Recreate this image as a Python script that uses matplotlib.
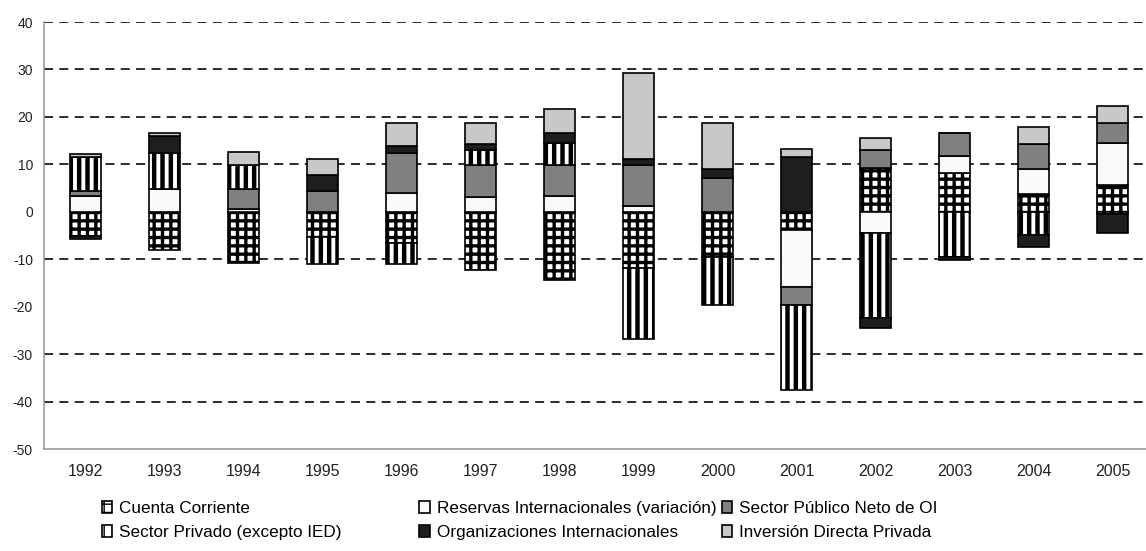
import matplotlib
matplotlib.use('Agg')
import matplotlib.pyplot as plt
import numpy as np

plt.rcParams['font.family'] = ['Liberation Sans', 'DejaVu Sans']
plt.rcParams['axes.unicode_minus'] = False

# datos (% del PIB)
years = ['1992', '1993', '1994', '1995', '1996', '1997', '1998',
         '1999', '2000', '2001', '2002', '2003', '2004', '2005']
cuenta_corriente = [-5.1, -8.1, -10.8, -5.2, -6.6, -12.2, -14.3, -11.9, -9.5, -3.8, 9.3, 8.2, 3.8, 5.7]
reservas = [3.4, 4.8, 0.6, 0.0, 4.0, 3.2, 3.4, 1.3, 0.0, -12.0, -4.4, 3.6, 5.3, 8.8]
sector_publico = [1.0, 0.0, 4.2, 4.4, 8.4, 6.7, 6.5, 8.6, 7.2, -3.8, 3.8, 4.8, 5.2, 4.2]
sector_privado = [7.2, 7.6, 5.1, -5.7, -4.3, 3.2, 4.6, -15.0, -10.1, -17.9, -17.9, -9.5, -4.8, -0.5]
organizaciones = [-0.6, 3.6, 0.0, 3.4, 1.5, 1.2, 2.1, 1.3, 1.9, 11.6, -2.1, -0.6, -2.6, -4.0]
inversion_directa = [0.5, 0.6, 2.7, 3.4, 4.8, 4.4, 5.1, 18.1, 9.6, 1.7, 2.5, 0.0, 3.6, 3.6]

series = [
    ('Cuenta Corriente', cuenta_corriente, 'white', '++', 2.4),
    ('Reservas Internacionales (variación)', reservas, '#fafafa', '', 1.0),
    ('Sector Público Neto de OI', sector_publico, '#808080', '', 1.0),
    ('Sector Privado (excepto IED)', sector_privado, 'white', '||', 3.2),
    ('Organizaciones Internacionales', organizaciones, '#1e1e1e', '', 1.0),
    ('Inversión Directa Privada', inversion_directa, '#c8c8c8', '', 1.0),
]

fig = plt.figure(figsize=(11.46, 5.51), dpi=100)
ax = fig.add_axes([0.0384, 0.185, 0.9616, 0.775])

x = np.arange(len(years))
pos = np.zeros(len(years))
neg = np.zeros(len(years))
handles = {}
for name, vals, color, hatch, hlw in series:
    v = np.array(vals)
    bottom = np.where(v >= 0, pos, neg)
    with plt.rc_context({'hatch.linewidth': hlw}):
        b = ax.bar(x, v, 0.39, bottom=bottom, color=color, hatch=hatch,
                   edgecolor='black', linewidth=1.2, zorder=3)
    handles[name] = b
    pos = pos + np.where(v >= 0, v, 0)
    neg = neg + np.where(v < 0, v, 0)

# lineas de referencia punteadas
for g in [40, 30, 20, 10, -10, -30, -40]:
    ax.axhline(g, color='#1a1a1a', linestyle=(0, (5, 3.5)), linewidth=1.3, zorder=1)

ax.set_xlim(-0.53, 13.42)
ax.set_ylim(-50, 40)
ax.set_yticks(range(-50, 41, 10))
ax.set_xticks(x)
ax.set_xticklabels(years)
ax.tick_params(axis='y', length=0, labelsize=10, pad=8, colors='#222222')
ax.tick_params(axis='x', length=0, labelsize=11.5, pad=11, colors='#222222')
for s in ['top', 'right']:
    ax.spines[s].set_visible(False)
ax.spines['left'].set_color('#9a9a9a')
ax.spines['bottom'].set_color('#9a9a9a')
ax.spines['left'].set_linewidth(1.2)
ax.spines['bottom'].set_linewidth(1.2)

# leyenda en tres columnas
cols = [
    (['Cuenta Corriente', 'Sector Privado (excepto IED)'], 0.089),
    (['Reservas Internacionales (variación)', 'Organizaciones Internacionales'], 0.366),
    (['Sector Público Neto de OI', 'Inversión Directa Privada'], 0.630),
]
for names, xl in cols:
    fig.legend([handles[n] for n in names], names, loc='upper left',
               bbox_to_anchor=(xl, 0.09), frameon=False, fontsize=12.3,
               handlelength=0.6, handleheight=0.7, handletextpad=0.4,
               labelspacing=0.5, borderpad=0, borderaxespad=0)

fig.savefig('out.png', dpi=100)
